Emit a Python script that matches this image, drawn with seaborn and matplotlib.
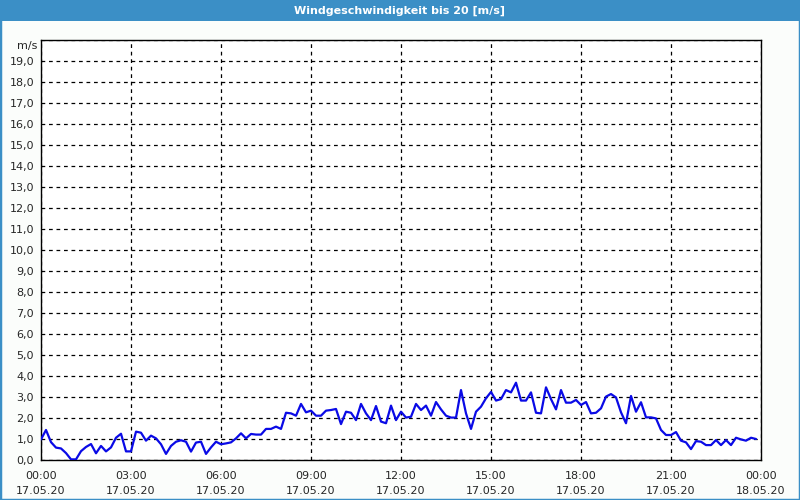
import matplotlib
matplotlib.use("Agg")
import matplotlib.pyplot as plt
import matplotlib.dates as mdates
from matplotlib.patches import Rectangle
from matplotlib.ticker import FuncFormatter, MultipleLocator
import pandas as pd
import seaborn as sns

# ---- data (10-minute samples, 17.05.20 00:00 .. 23:50) ----
start_time = "2020-05-17 00:00"
end_time = "2020-05-18 00:00"
wind_speed = [
    0.98, 1.43, 0.85, 0.59, 0.55, 0.33, 0.03, 0.03, 0.42, 0.62,
    0.76, 0.32, 0.67, 0.41, 0.60, 1.06, 1.25, 0.41, 0.41, 1.35,
    1.30, 0.92, 1.16, 1.03, 0.75, 0.29, 0.67, 0.87, 0.94, 0.87,
    0.40, 0.83, 0.87, 0.29, 0.60, 0.87, 0.75, 0.79, 0.84, 1.03,
    1.27, 1.03, 1.24, 1.21, 1.21, 1.48, 1.48, 1.59, 1.48, 2.25,
    2.22, 2.11, 2.67, 2.27, 2.35, 2.11, 2.11, 2.35, 2.38, 2.43,
    1.71, 2.30, 2.25, 1.90, 2.67, 2.22, 1.90, 2.57, 1.83, 1.75,
    2.59, 1.90, 2.30, 2.02, 2.06, 2.67, 2.38, 2.59, 2.11, 2.76,
    2.41, 2.11, 2.02, 2.02, 3.33, 2.22, 1.48, 2.30, 2.54, 2.94,
    3.24, 2.83, 2.90, 3.33, 3.22, 3.68, 2.83, 2.83, 3.22, 2.25,
    2.22, 3.46, 2.90, 2.41, 3.33, 2.73, 2.73, 2.86, 2.62, 2.76,
    2.22, 2.25, 2.46, 3.02, 3.14, 2.98, 2.27, 1.75, 3.05, 2.30,
    2.75, 2.03, 2.03, 1.98, 1.43, 1.19, 1.19, 1.33, 0.92, 0.84,
    0.52, 0.90, 0.87, 0.71, 0.71, 0.95, 0.71, 0.95, 0.71, 1.06,
    0.98, 0.92, 1.06, 1.00,
]
times = pd.date_range(start_time, periods=len(wind_speed), freq="10min")
df = pd.DataFrame({"time": times, "speed": wind_speed})

title_text = "Windgeschwindigkeit bis 20 [m/s]"
unit_label = "m/s"
y_min, y_max = 0, 20

# ---- figure ----
sns.set_style("white")
plt.rcParams["font.family"] = ["DejaVu Sans"]
BLUE = "#3b8fc6"

fig = plt.figure(figsize=(8, 5), dpi=100, facecolor="#fbfdfb")
ax = fig.add_axes([41 / 800, 40 / 500, 720 / 800, 420 / 500])
ax.set_facecolor("white")

sns.lineplot(data=df, x="time", y="speed", ax=ax, color="#0a0ae6",
             linewidth=1.6, zorder=5)

ax.set_xlim(pd.Timestamp(start_time), pd.Timestamp(end_time))
ax.set_ylim(y_min, y_max)
ax.set_xlabel("")
ax.set_ylabel("")

# ticks
ax.xaxis.set_major_locator(mdates.HourLocator(interval=3))
ax.xaxis.set_minor_locator(mdates.HourLocator())
ax.xaxis.set_major_formatter(mdates.DateFormatter("%H:%M\n%d.%m.%y"))
ax.yaxis.set_major_locator(MultipleLocator(1))
ax.yaxis.set_major_formatter(FuncFormatter(
    lambda v, p: "" if v >= 20 else f"{v:.1f}".replace(".", ",")))

ax.tick_params(axis="x", which="both", direction="out", length=5, width=1,
               color="black", labelsize=8, pad=3)
ax.tick_params(axis="y", which="major", direction="out", length=3, width=1,
               color="black", labelsize=8, pad=2)
for lbl in ax.get_xticklabels():
    lbl.set_linespacing(1.55)

# grid
ax.grid(True, which="major", color="black", linestyle=(0, (3, 3)), linewidth=0.9)
ax.set_axisbelow(True)
for s in ax.spines.values():
    s.set_visible(True)
    s.set_color("black")
    s.set_linewidth(1)

# unit label
fig.text(37 / 800, 1 - 46 / 500, unit_label, ha="right", va="center", fontsize=8)

# title bar and border
fig.patches.append(Rectangle((0, 1 - 21 / 500), 1, 21 / 500, transform=fig.transFigure,
                             facecolor=BLUE, edgecolor="none", zorder=0))
fig.patches.append(Rectangle((0, 0), 1, 1, transform=fig.transFigure,
                             facecolor="none", edgecolor=BLUE, linewidth=2.5, zorder=1))
fig.text(0.5, 1 - 10.5 / 500, title_text, ha="center", va="center",
         color="white", fontsize=8, fontweight="bold")

fig.savefig("out.png", dpi=100, facecolor=fig.get_facecolor())
